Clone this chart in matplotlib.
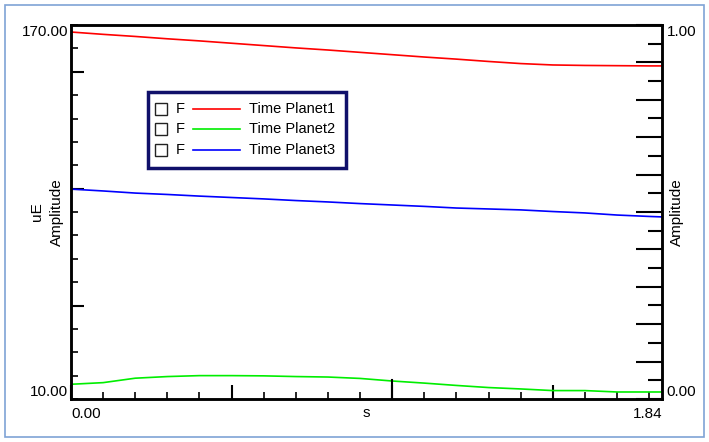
import matplotlib
matplotlib.use("Agg")
import matplotlib.pyplot as plt
import matplotlib.patches as mpatches
import matplotlib.lines as mlines
from matplotlib.ticker import MultipleLocator

plt.rcParams['font.family'] = ['Liberation Sans', 'DejaVu Sans']

# Dados (tempo em s, amplitude em uE)
time_s = [0.0, 0.1, 0.2, 0.3, 0.4, 0.5, 0.6, 0.7, 0.8, 0.9, 1.0,
          1.1, 1.2, 1.3, 1.4, 1.5, 1.6, 1.7, 1.8, 1.84]
planet1 = [167.0, 166.0, 165.1, 164.1, 163.2, 162.2, 161.2, 160.2, 159.3, 158.3,
           157.3, 156.3, 155.4, 154.4, 153.5, 152.9, 152.7, 152.6, 152.5, 152.5]
planet2 = [16.3, 17.0, 18.9, 19.6, 20.0, 20.0, 19.9, 19.6, 19.4, 18.8,
           17.7, 16.8, 15.8, 14.9, 14.3, 13.6, 13.6, 13.0, 13.0, 13.0]
planet3 = [99.8, 99.0, 98.1, 97.5, 96.8, 96.2, 95.6, 94.9, 94.3, 93.6,
           93.0, 92.4, 91.7, 91.3, 90.9, 90.2, 89.6, 88.7, 88.1, 87.9]

series_names = ["Time Planet1", "Time Planet2", "Time Planet3"]
series_colors = ['#ff0000', '#00ee00', '#0000ff']

W, H = 709, 442
fig = plt.figure(figsize=(W / 100, H / 100), dpi=100)

# Eixo principal (coordenadas em pixels convertidas)
L, R, T, B = 71, 662, 25, 399
ax = fig.add_axes([L / W, (H - B) / H, (R - L) / W, (B - T) / H])

for vals, col in zip([planet1, planet2, planet3], series_colors):
    ax.plot(time_s, vals, color=col, lw=1.2)

ax.set_xlim(0, 1.84)
ax.set_ylim(10, 170)
for sp in ax.spines.values():
    sp.set_linewidth(1.8)

ax.xaxis.set_major_locator(MultipleLocator(0.5))
ax.xaxis.set_minor_locator(MultipleLocator(0.1))
ax.yaxis.set_major_locator(MultipleLocator(50))
ax.yaxis.set_minor_locator(MultipleLocator(10))
ax.tick_params(axis='x', which='major', direction='in', length=10, width=1.5,
               labelbottom=False, top=False)
ax.tick_params(axis='x', which='minor', direction='in', length=5, width=1.2, top=False)
ax.tick_params(axis='y', which='major', direction='in', length=9, width=1.5,
               labelleft=False)
ax.tick_params(axis='y', which='minor', direction='in', length=5, width=1.2)
# tick mais longo no meio do eixo x (1.0 s)
ax.plot([1.0, 1.0], [0, 19 / (B - T)], transform=ax.get_xaxis_transform(),
        color='black', lw=1.5, clip_on=False)

# Eixo secundario (direita)
ax2 = ax.twinx()
ax2.set_ylim(0, 1)
ax2.yaxis.set_major_locator(MultipleLocator(0.1))
ax2.yaxis.set_minor_locator(MultipleLocator(0.05))
ax2.tick_params(axis='y', which='major', direction='in', length=19, width=1.5,
                labelright=False)
ax2.tick_params(axis='y', which='minor', direction='in', length=10, width=1.5)
for sp in ax2.spines.values():
    sp.set_linewidth(1.8)

fs = 11
# Rotulos das extremidades
ax.text(-0.005, 170, "170.00", transform=ax.get_yaxis_transform(), ha='right', va='top', fontsize=fs)
ax.text(-0.005, 10, "10.00", transform=ax.get_yaxis_transform(), ha='right', va='bottom', fontsize=fs)
ax2.text(1.008, 1.0, "1.00", transform=ax2.transAxes, ha='left', va='top', fontsize=fs)
ax2.text(1.008, 0.0, "0.00", transform=ax2.transAxes, ha='left', va='bottom', fontsize=fs)
ax.text(0.0, -0.022, "0.00", transform=ax.transAxes, ha='left', va='top', fontsize=fs)
ax.text(1.0, -0.022, "1.84", transform=ax.transAxes, ha='right', va='top', fontsize=fs)

fig.text(366 / W, 1 - 413 / H, "s", ha='center', va='center', fontsize=fs)
fig.text(37 / W, 1 - 212 / H, "uE", ha='center', va='center', rotation=90, fontsize=fs)
fig.text(57 / W, 1 - 212 / H, "Amplitude", ha='center', va='center', rotation=90, fontsize=fs)
fig.text(677 / W, 1 - 212 / H, "Amplitude", ha='center', va='center', rotation=90, fontsize=fs)

# Legenda desenhada a mao
lx0, ly0, lx1, ly1 = 148, 92, 346, 168
fig.patches.append(mpatches.Rectangle((lx0 / W, 1 - ly1 / H), (lx1 - lx0) / W, (ly1 - ly0) / H,
                                      transform=fig.transFigure, facecolor='white',
                                      edgecolor='#10106a', lw=2.5, zorder=5))
rows_y = [109, 129, 150]
for yy, name, col in zip(rows_y, series_names, series_colors):
    fig.patches.append(mpatches.Rectangle((155 / W, 1 - (yy + 6) / H), 12 / W, 12 / H,
                                          transform=fig.transFigure, facecolor='white',
                                          edgecolor='#222222', lw=1.0, zorder=6))
    fig.text(176 / W, 1 - yy / H, "F", ha='left', va='center', fontsize=10.5, zorder=6)
    fig.lines.append(mlines.Line2D([193 / W, 240 / W], [1 - yy / H, 1 - yy / H],
                                   transform=fig.transFigure, color=col, lw=1.2, zorder=6))
    fig.text(249 / W, 1 - yy / H, name, ha='left', va='center', fontsize=10.5, zorder=6)

# Moldura externa
fig.patches.append(mpatches.Rectangle((5 / W, 5 / H), (W - 10) / W, (H - 10) / H,
                                      transform=fig.transFigure, facecolor='none',
                                      edgecolor='#7fa3d6', lw=1.2))

fig.savefig("out.png", dpi=100)
